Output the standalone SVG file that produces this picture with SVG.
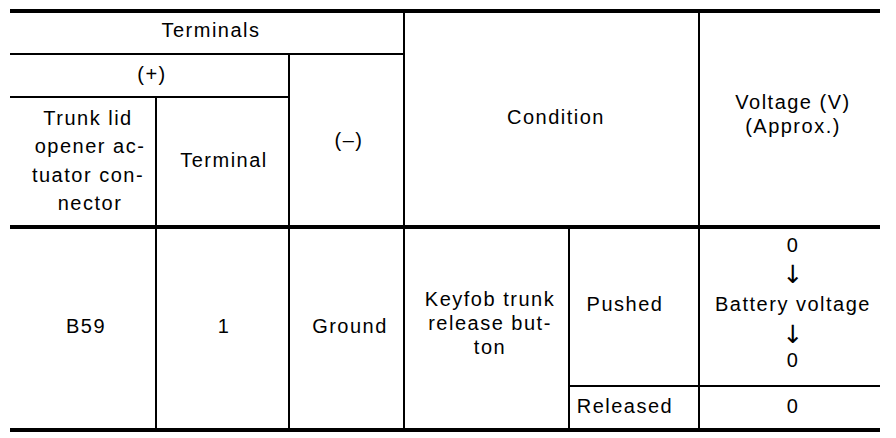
<svg xmlns="http://www.w3.org/2000/svg" width="896" height="438" viewBox="0 0 896 438">
<style>
text{font-family:"Liberation Sans",Arial,sans-serif;font-size:20px;letter-spacing:1.5px;fill:#000;text-anchor:middle}
.arr{font-family:"DejaVu Sans",sans-serif;font-size:25px;letter-spacing:0}
.thin{stroke:#000;stroke-width:2;fill:none}
.thick{stroke:#000;stroke-width:4;fill:none}
</style>
<rect width="896" height="438" fill="#fff"/>
<g id="grid">
<line class="thick" x1="10" y1="11" x2="880" y2="11"/>
<line class="thick" x1="10" y1="227" x2="880" y2="227"/>
<line class="thick" x1="10" y1="430" x2="880" y2="430"/>
<line class="thin" x1="10" y1="54" x2="404" y2="54"/>
<line class="thin" x1="10" y1="97" x2="289" y2="97"/>
<line class="thin" x1="569" y1="386" x2="880" y2="386"/>
<line class="thin" x1="156" y1="97" x2="156" y2="430"/>
<line class="thin" x1="289" y1="54" x2="289" y2="430"/>
<line class="thin" x1="404" y1="11" x2="404" y2="430"/>
<line class="thin" x1="569" y1="227" x2="569" y2="430"/>
<line class="thin" x1="699" y1="11" x2="699" y2="430"/>
</g>
<g id="header">
<text x="211" y="37">Terminals</text>
<text x="152" y="81">(+)</text>
<text x="88" y="125">Trunk lid</text>
<text x="90" y="153">opener ac-</text>
<text x="88" y="182">tuator con-</text>
<text x="90" y="210">nector</text>
<text x="224" y="167">Terminal</text>
<text x="349" y="147">(–)</text>
<text x="556" y="124">Condition</text>
<text x="793" y="109">Voltage (V)</text>
<text x="793" y="133">(Approx.)</text>
</g>
<g id="row">
<text x="86" y="333">B59</text>
<text x="224" y="333">1</text>
<text x="350" y="333">Ground</text>
<text x="490" y="306">Keyfob trunk</text>
<text x="490" y="330">release but-</text>
<text x="490" y="354">ton</text>
<text x="625" y="311">Pushed</text>
<text x="625" y="413">Released</text>
<text x="793" y="252">0</text>
<text class="arr" x="793" y="283">↓</text>
<text x="793" y="311">Battery voltage</text>
<text class="arr" x="793" y="343">↓</text>
<text x="793" y="367">0</text>
<text x="793" y="413">0</text>
</g>
</svg>
